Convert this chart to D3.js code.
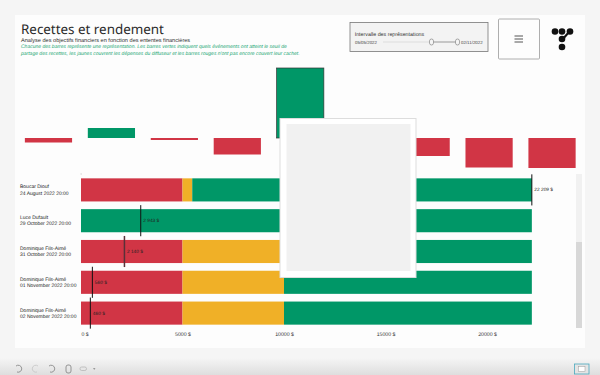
<!DOCTYPE html>
<html lang="fr"><head><meta charset="utf-8">
<script src="https://cdn.jsdelivr.net/npm/d3@7"></script>
<style>html,body{margin:0;padding:0;background:#f5f5f5;overflow:hidden}svg{display:block}text{font-family:"Liberation Sans",Arial,sans-serif;text-rendering:geometricPrecision}</style>
</head><body><svg id="c" width="600" height="375"></svg>
<script>
const rowLabels=[["Boucar Diouf","24 August 2022 20:00"],["Luce Dufault","29 October 2022 20:00"],["Dominique Fils-Aimé","31 October 2022 20:00"],["Dominique Fils-Aimé","01 November 2022 20:00"],["Dominique Fils-Aimé","02 November 2022 20:00"]];
const redValues=[5000,0,5000,5000,5000];
const yellowValues=[480,0,5000,5000,5000];
const greenValues=[16729,22209,12209,12209,12209];
const markerValues=[22209,2943,2140,560,460];
const markerLabels=["22 209 $","2 943 $","2 140 $","560 $","460 $"];
const xTicks=[0,5000,10000,15000,20000];
const topValues=[-900,2000,-400,-3300,14000,-3400,-3600,-5900,-6000];
const colors={red:"#d13545",yellow:"#f0b027",green:"#009767"};

const svg=d3.select("#c");
const x=d3.scaleLinear().domain([0,20000]).range([81,487]);
const yRow=d3.scaleBand().domain(d3.range(rowLabels.length)).range([174.5,328.5]).paddingInner(.25).paddingOuter(.125);
const xTop=d3.scaleBand().domain(d3.range(topValues.length)).range([17,583.5]).paddingInner(.25).paddingOuter(.125);
const yTop=d3.scaleLinear().domain([0,14000]).range([138,68]);

// page & card
svg.append("rect").attr("x",0).attr("y",0).attr("width",600).attr("height",375).attr("fill","#f5f5f5");
svg.append("rect").attr("x",15).attr("y",15).attr("width",570).attr("height",333).attr("fill","#fdfdfd");
const grad=svg.append("defs").append("linearGradient").attr("id","tb").attr("x1",0).attr("x2",0).attr("y1",0).attr("y2",1);
grad.append("stop").attr("offset",0).attr("stop-color","#f5f5f5");
grad.append("stop").attr("offset",1).attr("stop-color","#dedede");
svg.append("rect").attr("x",0).attr("y",358).attr("width",600).attr("height",17).attr("fill","url(#tb)");

// titles
svg.append("text").attr("x",21).attr("y",33.5).attr("font-size",13.4).attr("fill","#2a2a2a").style("font-family","'Noto Sans'").text("Recettes et rendement");
svg.append("text").attr("x",21).attr("y",42).attr("font-size",5.6).attr("fill","#333").text("Analyse des objectifs financiers en fonction des ententes financières");
const note=svg.append("g").attr("font-size",5).attr("font-style","italic").attr("fill","#16a571");
note.append("text").attr("x",21).attr("y",48).text("Chacune des barres représente une représentation. Les barres vertes indiquent quels événements ont atteint le seuil de");
note.append("text").attr("x",21).attr("y",54.5).text("partage des recettes, les jaunes couvrent les dépenses du diffuseur et les barres rouges n'ont pas encore couvert leur cachet.");

// top bars
svg.append("g").selectAll("rect").data(topValues).join("rect")
 .attr("x",(d,i)=>xTop(i)).attr("width",xTop.bandwidth())
 .attr("y",d=>yTop(Math.max(0,d))).attr("height",d=>Math.abs(yTop(d)-yTop(0)))
 .attr("fill",d=>d<0?colors.red:colors.green);
const tall=topValues.indexOf(d3.max(topValues));
svg.append("rect").attr("x",xTop(tall)).attr("width",xTop.bandwidth()).attr("y",yTop(topValues[tall])).attr("height",yTop(0)-yTop(topValues[tall])).attr("fill","none").attr("stroke","#333").attr("stroke-width",.7);

// stacked rows
const rows=svg.append("g").selectAll("g").data(rowLabels).join("g").attr("transform",(d,i)=>`translate(0,${yRow(i)})`);
const bw=yRow.bandwidth();
[[redValues,()=>0,colors.red],[yellowValues,i=>redValues[i],colors.yellow],[greenValues,i=>redValues[i]+yellowValues[i],colors.green]].forEach(([vals,start,col])=>{
 rows.append("rect").attr("x",(d,i)=>x(start(i))).attr("width",(d,i)=>x(vals[i])-x(0)).attr("height",bw).attr("fill",col);
});
rows.append("line").attr("x1",(d,i)=>x(markerValues[i])).attr("x2",(d,i)=>x(markerValues[i])).attr("y1",-4).attr("y2",bw+4).attr("stroke",(d,i)=>i===2?"#5a3038":"#111").attr("stroke-width",(d,i)=>i===2?1.5:1);
rows.append("text").attr("x",(d,i)=>x(markerValues[i])+2.5).attr("y",bw/2+1.5).attr("font-size",4.8).attr("fill","#222").text((d,i)=>markerLabels[i]);
rows.each(function(d){
 const g=d3.select(this);
 g.append("text").attr("x",20).attr("y",bw/2-1.5).attr("font-size",5).attr("fill","#222").text(d[0]);
 g.append("text").attr("x",20).attr("y",bw/2+4.8).attr("font-size",5).attr("fill","#222").text(d[1]);
});
svg.append("rect").attr("x",80.7).attr("y",173.6).attr("width",.8).attr("height",.8).attr("fill","#999");

// x axis
const ax=svg.append("g").attr("transform","translate(0,330)").call(d3.axisBottom(x).tickValues(xTicks).tickFormat(d=>d+" $").tickSize(0).tickPadding(0));
ax.select(".domain").remove();
ax.selectAll("text").attr("font-size",5.2).attr("fill","#333").attr("y",2).style("font-family","'Liberation Sans'");
ax.selectAll("text").filter(d=>d===0).attr("text-anchor","start");

// scrollbar
svg.append("rect").attr("x",576).attr("y",174).attr("width",6).attr("height",154).attr("fill","#f1f1f1");
svg.append("rect").attr("x",576).attr("y",242).attr("width",6).attr("height",86).attr("fill","#d8d8d8");

// tooltip
svg.append("rect").attr("x",280).attr("y",118.5).attr("width",136).attr("height",159).attr("fill","#fff").attr("stroke","#ddd").attr("stroke-width",1);
svg.append("rect").attr("x",286.5).attr("y",124).attr("width",124).attr("height",147).attr("fill","#f1f1f1");

// filter box
svg.append("rect").attr("x",350).attr("y",22.5).attr("width",138).attr("height",29).attr("fill","#f3f3f3").attr("stroke","#777").attr("stroke-width",.8);
svg.append("text").attr("x",354.7).attr("y",36).attr("font-size",5.3).attr("fill","#333").text("Intervalle des représentations");
svg.append("text").attr("x",355).attr("y",44).attr("font-size",4.4).attr("fill","#444").text("05/05/2022");
svg.append("text").attr("x",461).attr("y",44).attr("font-size",4.4).attr("fill","#444").text("02/11/2022");
svg.append("line").attr("x1",383).attr("x2",431).attr("y1",42).attr("y2",42).attr("stroke","#ddd").attr("stroke-width",1);
svg.append("line").attr("x1",431).attr("x2",457).attr("y1",42).attr("y2",42).attr("stroke","#999").attr("stroke-width",1);
[431.5,457.5].forEach(cx=>svg.append("rect").attr("x",cx-2).attr("y",39).attr("width",4).attr("height",6).attr("rx",2).attr("fill","#f5f5f5").attr("stroke","#777").attr("stroke-width",.6));

// menu
svg.append("rect").attr("x",498.5).attr("y",19).attr("width",41).attr("height",40).attr("rx",1).attr("fill","#fdfdfd").attr("stroke","#999").attr("stroke-width",.8);
[36,39,42].forEach(y=>svg.append("line").attr("x1",514.5).attr("x2",523).attr("y1",y).attr("y2",y).attr("stroke","#555").attr("stroke-width",1));

// logo
[[555,31.5],[562,31.5],[570,31.5],[562,39],[562,47]].forEach(([cx,cy])=>svg.append("circle").attr("cx",cx).attr("cy",cy).attr("r",3.3).attr("fill","#111"));
svg.append("line").attr("x1",569).attr("y1",32).attr("x2",562).attr("y2",40).attr("stroke","#111").attr("stroke-width",2);

// toolbar icons
const tb=svg.append("g").attr("fill","none").attr("stroke","#8a8a8a").attr("stroke-width",.9);
tb.append("path").attr("d","M16 366 a3.5 3.5 0 1 1 1 6");
tb.append("path").attr("d","M38 366 a3.5 3.5 0 1 0 -1 6").attr("stroke","#c8c8c8");
tb.append("path").attr("d","M49 366 a3.5 3.5 0 1 1 1 6");
tb.append("rect").attr("x",66).attr("y",365).attr("width",5).attr("height",8).attr("rx",2);
tb.append("rect").attr("x",80).attr("y",367).attr("width",6.5).attr("height",3.5).attr("rx",1.7).attr("stroke","#bbb");
svg.append("path").attr("d",d3.line()([[93,368],[95.5,368],[94.2,370]])).attr("fill","#999");
svg.append("rect").attr("x",574.5).attr("y",364).attr("width",14.5).attr("height",10).attr("fill","#e4e4e4").attr("stroke","#4aa8bd").attr("stroke-width",.8);
svg.append("rect").attr("x",578.5).attr("y",366.5).attr("width",6.5).attr("height",5).attr("fill","#fff").attr("stroke","#999").attr("stroke-width",.5);
</script></body></html>
